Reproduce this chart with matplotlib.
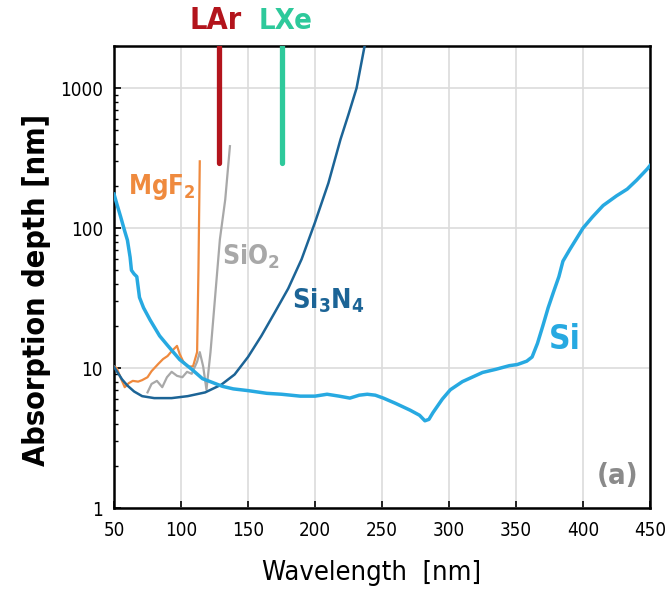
import matplotlib
matplotlib.use("Agg")
import matplotlib.pyplot as plt
from matplotlib import font_manager
from matplotlib.transforms import blended_transform_factory
from matplotlib.ticker import LogLocator, NullFormatter, FixedLocator

# ---------------- data ----------------
si_x = [50, 52, 55, 58, 60, 62, 63, 65, 67, 69, 72, 77, 84, 90, 99, 108, 116, 131, 139,
        150, 164, 175, 189, 200, 209, 218, 226, 233, 239, 245, 251, 260, 271, 278, 282,
        285, 288, 295, 301, 310, 325, 335, 345, 351, 358, 362, 366, 370, 374, 378, 382,
        385, 390, 400, 407, 415, 425, 433, 440, 448, 450]
si_y = [175, 150, 120, 95, 82, 62, 50, 47, 45, 32, 27, 22, 17, 14.5, 11.5, 9.8, 8.4, 7.4, 7.1,
        6.9, 6.6, 6.5, 6.3, 6.3, 6.5, 6.3, 6.1, 6.4, 6.5, 6.4, 6.1, 5.6, 5.0, 4.6, 4.2,
        4.3, 4.8, 6.0, 7.0, 8.0, 9.3, 9.8, 10.4, 10.6, 11.2, 12, 15, 20, 27, 35, 45,
        58, 70, 100, 120, 145, 170, 190, 220, 265, 280]

si3n4_x = [50, 53, 56, 60, 65, 71, 80, 93, 105, 118, 130, 140, 150, 160, 170, 180, 190,
           200, 210, 219, 225, 231, 237]
si3n4_y = [10.2, 9.2, 8.3, 7.5, 6.8, 6.3, 6.1, 6.1, 6.3, 6.7, 7.6, 9.0, 12, 17, 25, 37, 60,
           110, 210, 430, 650, 1000, 2000]

mgf2_x = [50, 52, 55, 58, 61, 64, 68, 71, 75, 78, 83, 86.6, 90, 93, 97, 99, 101.5, 105,
          109, 112, 113, 114]
mgf2_y = [10.3, 10, 8.5, 7.3, 7.8, 8.1, 8.0, 8.2, 8.6, 9.5, 10.7, 11.6, 12.2, 13.2, 14.4,
          12.6, 11.2, 10.2, 10.3, 13, 50, 300]

sio2_x = [75, 78, 82, 86, 89.5, 93, 97, 101, 104.5, 108, 112, 114, 116.5, 119, 122, 124,
          129, 133, 136.5]
sio2_y = [6.7, 7.7, 8.1, 7.3, 8.6, 9.4, 8.8, 8.6, 9.4, 9.1, 11.1, 13, 10.3, 7.0, 13, 22,
          83, 160, 385]

lar_x = 128
lxe_x = 175
marker_bottom = 290
marker_top = 2000

x_ticks = [50, 100, 150, 200, 250, 300, 350, 400, 450]
y_ticks = [1, 10, 100, 1000]
y_ticklabels = ["1", "10", "100", "1000"]

# ---------------- font ----------------
names = {f.name for f in font_manager.fontManager.ttflist}
stretch = "normal"
if "Liberation Sans Narrow" in names:
    fam = "Liberation Sans Narrow"
elif any(f.name == "DejaVu Sans" and f.stretch == "condensed" for f in font_manager.fontManager.ttflist):
    fam = "DejaVu Sans"
    stretch = "condensed"
else:
    fam = "Lato"
plt.rcParams["font.family"] = [fam, "DejaVu Sans"]
plt.rcParams["font.stretch"] = stretch
plt.rcParams["mathtext.fontset"] = "custom"
plt.rcParams["mathtext.rm"] = fam
plt.rcParams["mathtext.bf"] = fam + ":bold"

# ---------------- figure ----------------
fig = plt.figure(figsize=(6.66, 6.0), dpi=100)
ax = fig.add_axes([0.1712, 0.1533, 0.8048, 0.77])

c_si = "#27a9e1"
c_sin = "#1c6496"
c_mg = "#ef8a3e"
c_sio = "#a8a8a8"
c_lar = "#b3141c"
c_lxe = "#2ec99b"

ax.plot(mgf2_x, mgf2_y, color=c_mg, lw=1.6, zorder=3)
ax.plot(sio2_x, sio2_y, color=c_sio, lw=1.6, zorder=3)
ax.plot(si3n4_x, si3n4_y, color=c_sin, lw=1.8, zorder=4)
ax.plot(si_x, si_y, color=c_si, lw=2.5, zorder=5)

ax.plot([lar_x, lar_x], [marker_bottom, marker_top * 2], color=c_lar, lw=3.8,
        solid_capstyle="round", zorder=6)
ax.plot([lxe_x, lxe_x], [marker_bottom, marker_top * 2], color=c_lxe, lw=3.8,
        solid_capstyle="round", zorder=6)

ax.set_yscale("log")
ax.set_xlim(50, 450)
ax.set_ylim(1, marker_top)

ax.xaxis.set_major_locator(FixedLocator(x_ticks))
ax.set_xticklabels([str(t) for t in x_ticks])
ax.yaxis.set_major_locator(FixedLocator(y_ticks))
ax.set_yticklabels(y_ticklabels)
ax.yaxis.set_minor_locator(LogLocator(base=10, subs=range(2, 10)))
ax.yaxis.set_minor_formatter(NullFormatter())

ax.grid(True, which="major", color="#dcdcdc", lw=1.2, zorder=0)
ax.set_axisbelow(True)
for s in ax.spines.values():
    s.set_linewidth(1.8)
    s.set_color("black")

ax.tick_params(axis="both", which="major", direction="in", length=5, width=1.2,
               labelsize=13.5, colors="black", pad=8)
ax.tick_params(axis="y", which="minor", direction="in", length=3, width=1.0)
ax.tick_params(axis="x", which="major", pad=9)

ax.set_xlabel("Wavelength  [nm]", fontsize=19.5)
ax.set_ylabel("Absorption depth [nm]", fontsize=22, fontweight="bold")
ax.xaxis.set_label_coords(0.481, -0.112)
ax.yaxis.set_label_coords(-0.118, 0.472)

trans = blended_transform_factory(ax.transData, ax.transAxes)
ax.text(126, 1.037, "LAr", transform=trans, color=c_lar, fontsize=22, fontweight="bold",
        ha="center", va="baseline", clip_on=False)
ax.text(178, 1.037, "LXe", transform=trans, color=c_lxe, fontsize=21, fontweight="bold",
        ha="center", va="baseline", clip_on=False)

ax.text(60.4, 175, r"MgF$_\mathbf{2}$", color=c_mg, fontsize=18.5, fontweight="bold",
        ha="left", va="baseline", zorder=7)
ax.text(130.6, 55, r"SiO$_\mathbf{2}$", color=c_sio, fontsize=19, fontweight="bold",
        ha="left", va="baseline", zorder=7)
ax.text(183, 26.8, r"Si$_\mathbf{3}$N$_\mathbf{4}$", color=c_sin, fontsize=19.5, fontweight="bold",
        ha="left", va="baseline", zorder=7)
ax.text(374.6, 13.7, "Si", color=c_si, fontsize=24, fontweight="bold",
        ha="left", va="baseline", zorder=7)
ax.text(441, 1.49, "(a)", color="#8a8a8a", fontsize=21, fontweight="bold",
        ha="right", va="baseline", zorder=7)

fig.savefig("out.png", dpi=100)
